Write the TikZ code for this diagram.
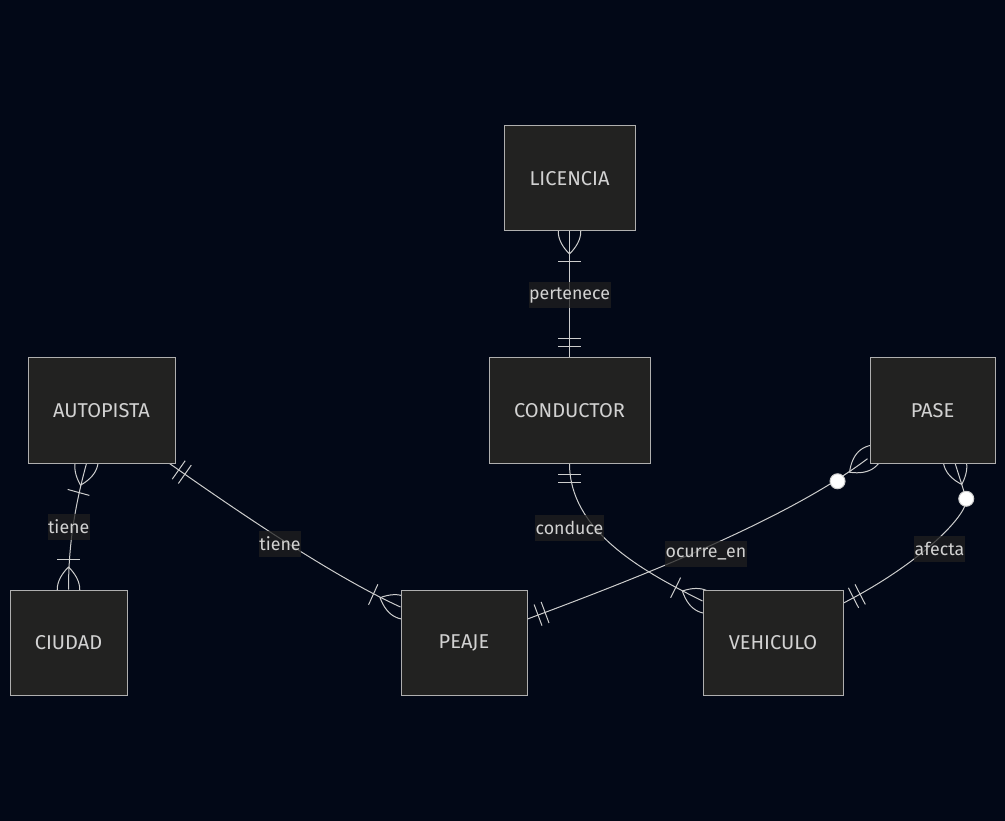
\documentclass[tikz,border=0pt]{standalone}
\usepackage{fontspec}
\setmainfont{Fira Sans}
\usetikzlibrary{calc}
\definecolor{bgc}{RGB}{2,8,23}
\definecolor{boxfill}{RGB}{34,34,33}
\definecolor{boxline}{RGB}{175,175,175}
\definecolor{txt}{RGB}{210,210,210}
\definecolor{edgec}{RGB}{205,205,205}
\definecolor{lblbg}{RGB}{32,32,32}
\pgfdeclarelayer{back}
\pgfdeclarelayer{edges}
\pgfsetlayers{back,edges,main}
\tikzset{
  entity/.style={draw=boxline, fill=boxfill, line width=1pt, text=txt,
    font=\fontsize{20}{24}\selectfont, inner sep=0pt, minimum height=105pt},
  lbl/.style={fill=lblbg, fill opacity=0.75, text opacity=1, text=txt,
    font=\fontsize{17.8}{20}\selectfont, inner xsep=0.5pt, inner ysep=0pt, minimum height=26pt},
  edge/.style={draw=edgec, line width=1pt},
}
\newcommand\lensmark[2]{%
  \draw[edge] let \p1=($(#2)-(#1)$), \n1={atan2(\y1,\x1)} in
    ($(#1)+({\n1+180}:22.5pt)$)
      .. controls ($(#1)+({\n1+180}:7.5pt)+({\n1+90}:15pt)$) and ($(#1)+(\n1:7.5pt)+({\n1+90}:15pt)$) ..
    ($(#1)+(\n1:22.5pt)$)
      .. controls ($(#1)+(\n1:7.5pt)+({\n1-90}:15pt)$) and ($(#1)+({\n1+180}:7.5pt)+({\n1-90}:15pt)$) ..
    ($(#1)+({\n1+180}:22.5pt)$);}
\newcommand\manymark[2]{%
  \lensmark{#1}{#2}%
  \draw[edge] let \p1=($(#2)-(#1)$), \n1={atan2(\y1,\x1)} in
    ($(#1)+(\n1:30pt)+({\n1+90}:11.25pt)$) -- ($(#1)+(\n1:30pt)+({\n1-90}:11.25pt)$);}
\newcommand\zeromanymark[2]{%
  \lensmark{#1}{#2}%
  \draw[edge, fill=white] let \p1=($(#2)-(#1)$), \n1={atan2(\y1,\x1)} in
    ($(#1)+(\n1:37.5pt)$) circle (7.5pt);}
\newcommand\onemark[2]{%
  \draw[edge] let \p1=($(#2)-(#1)$), \n1={atan2(\y1,\x1)} in
    ($(#1)+(\n1:11.25pt)+({\n1+90}:11.25pt)$) -- ($(#1)+(\n1:11.25pt)+({\n1-90}:11.25pt)$)
    ($(#1)+(\n1:18.75pt)+({\n1+90}:11.25pt)$) -- ($(#1)+(\n1:18.75pt)+({\n1-90}:11.25pt)$);}
\begin{document}
\begin{tikzpicture}[x=1pt,y=-1pt]
\begin{pgfonlayer}{back}
  \fill[bgc] (0,0) rectangle (1005,821);
\end{pgfonlayer}
\useasboundingbox (0,0) rectangle (1005,821);
% entities
\node[entity, minimum width=131pt] (lic) at (569.5,178.5) {LICENCIA};
\node[entity, minimum width=161pt] (con) at (569.5,410.5) {CONDUCTOR};
\node[entity, minimum width=147pt] (aut) at (101.5,410.5) {AUTOPISTA};
\node[entity, minimum width=125pt] (pase) at (932.5,410.5) {PASE};
\node[entity, minimum width=117pt] (ciu) at (68.5,642.5) {CIUDAD};
\node[entity, minimum width=126pt] (peaje) at (464,642.5) {PEAJE};
\node[entity, minimum width=140pt] (veh) at (773,642.5) {VEHICULO};
% end points
\coordinate (a1) at ($(aut.south)+(-15,0)$);
\coordinate (c1) at (ciu.north);
\coordinate (a2) at ($(aut.south east)+(-6,0)$);
\coordinate (p1) at ($(peaje.west)+(0,-35.5)$);
\coordinate (cb) at (con.south);
\coordinate (v1) at ($(veh.west)+(0,-41.5)$);
\coordinate (p2) at ($(peaje.east)+(0,-23.5)$);
\coordinate (s1) at ($(pase.south west)+(-2,-4.8)$);
\coordinate (s2) at ($(pase.south)+(22.5,-0.5)$);
\coordinate (sc) at (966,498);
\coordinate (v2) at ($(veh.east)+(0,-39.5)$);
\begin{pgfonlayer}{edges}
  \draw[edge] (lic.south) -- (con.north);
  \draw[edge] (a1) .. controls (73.4,511) and (68.5,550) .. (c1);
  \draw[edge] (a2) .. controls (230,506) and (330,575) .. (p1);
  \draw[edge] (cb) .. controls (569.5,530) and (640,570) .. (v1);
  \draw[edge] (p2) .. controls (648.8,573.8) and (788.2,518.4) .. (s1);
  \draw[edge] (s2) -- (sc) .. controls (970.4,512.3) and (923.2,562.1) .. (v2);
  \manymark{lic.south}{569.5,300}
  \onemark{con.north}{569.5,300}
  \manymark{a1}{73.4,511}
  \manymark{c1}{68.5,550}
  \onemark{a2}{230,506}
  \manymark{p1}{330,575}
  \onemark{cb}{569.5,530}
  \manymark{v1}{640,570}
  \onemark{p2}{648.8,573.8}
  \zeromanymark{s1}{788.2,518.4}
  \zeromanymark{s2}{sc}
  \onemark{v2}{923.2,562.1}
\end{pgfonlayer}
% labels
\node[lbl] (l1) at (569.5,295.5) {pertenece};
\node[lbl] (l2) at (68.7,527) {tiene};
\node[lbl] (l3) at (280,543.5) {tiene};
\node[lbl] (l4) at (569.5,527.5) {conduce};
\node[lbl] (l5) at (706,553.5) {ocurre\_en};
\node[lbl] (l6) at (939.5,548.5) {afecta};
\end{tikzpicture}
\end{document}
